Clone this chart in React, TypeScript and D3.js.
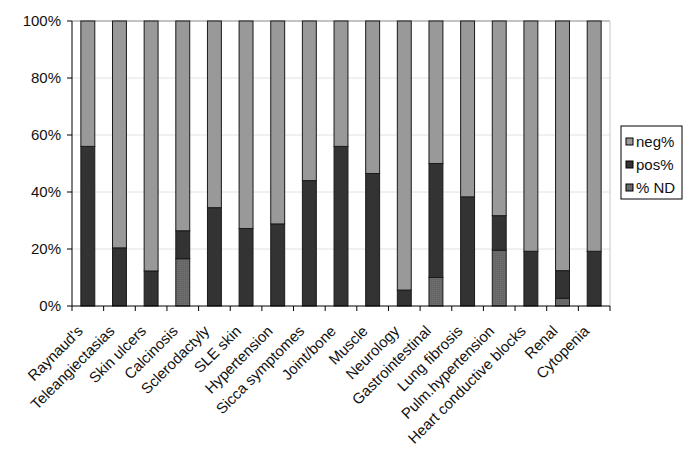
import React from "react";
import * as d3 from "d3";

const categories = [
  "Raynaud's", "Teleangiectasias", "Skin ulcers", "Calcinosis", "Sclerodactyly",
  "SLE skin", "Hypertension", "Sicca symptomes", "Joint/bone", "Muscle",
  "Neurology", "Gastrointestinal", "Lung fibrosis", "Pulm.hypertension",
  "Heart conductive blocks", "Renal", "Cytopenia",
];
const ndPct = [0, 0, 0, 16.6, 0, 0, 0, 0, 0, 0, 0, 10, 0, 19.6, 0, 2.7, 0];
const posPct = [56, 20.4, 12.3, 9.8, 34.5, 27.2, 28.8, 44, 56, 46.5, 5.6, 40, 38.3, 12.1, 19.2, 9.7, 19.2];
const negPct = categories.map((_, i) => 100 - ndPct[i] - posPct[i]);
const yTicks = [0, 20, 40, 60, 80, 100];
const legendItems = ["neg%", "pos%", "% ND"];

const width = 685;
const height = 455;
const margin = { left: 72, right: 75, top: 21, bottom: 149 };

const App = () => {
  const x = d3.scaleBand().domain(categories).range([margin.left, width - margin.right]).paddingInner(0.56).paddingOuter(0.28);
  const y = d3.scaleLinear().domain([0, 100]).range([height - margin.bottom, margin.top]);
  const step = x.step();
  const x0 = margin.left;
  const x1 = width - margin.right;
  const font = "Arial, 'Liberation Sans', sans-serif";

  const fills = { neg: "#999999", pos: "#333333", nd: "url(#ndPat)" };
  const legendFills = [fills.neg, fills.pos, fills.nd];

  return (
    <svg width={width} height={height} style={{ position: "absolute", left: 0, top: 0 }} fontFamily={font}>
      <defs>
        <pattern id="ndPat" width="2" height="2" patternUnits="userSpaceOnUse">
          <rect width="2" height="2" fill="#666" />
          <rect width="1" height="1" fill="#727272" />
        </pattern>
      </defs>
      <rect x={0} y={0} width={width} height={height} fill="#fff" />
      {yTicks.slice(1).map((t) => (
        <line key={t} x1={x0} x2={x1} y1={y(t)} y2={y(t)} stroke={t === 100 ? "#888" : "#e2e2e2"} />
      ))}
      <line x1={x1} x2={x1} y1={y(100)} y2={y(0)} stroke="#c8c8c8" />
      {categories.map((c, i) => {
        const bx = x(c)!;
        const bw = x.bandwidth();
        const segs = [
          { lo: 0, hi: ndPct[i], f: fills.nd },
          { lo: ndPct[i], hi: ndPct[i] + posPct[i], f: fills.pos },
          { lo: ndPct[i] + posPct[i], hi: 100, f: fills.neg },
        ];
        return (
          <g key={c}>
            {segs.filter((s) => s.hi - s.lo > 0).map((s, k) => (
              <rect key={k} x={bx} y={y(s.hi)} width={bw} height={y(s.lo) - y(s.hi)} fill={s.f} stroke="#1a1a1a" strokeWidth={1} />
            ))}
          </g>
        );
      })}
      {/* axes */}
      <line x1={x0} x2={x0} y1={y(0)} y2={y(100)} stroke="#000" />
      <line x1={x0} x2={x1} y1={y(0)} y2={y(0)} stroke="#000" />
      {yTicks.map((t) => (
        <g key={t}>
          <line x1={x0 - 5} x2={x0} y1={y(t)} y2={y(t)} stroke="#000" />
          <text x={x0 - 11} y={y(t)} dy="0.35em" textAnchor="end" fontSize={15} fill="#111">{t}%</text>
        </g>
      ))}
      {d3.range(categories.length + 1).map((k) => (
        <line key={k} x1={x0 + k * step} x2={x0 + k * step} y1={y(0)} y2={y(0) + 5} stroke="#000" />
      ))}
      {categories.map((c) => {
        const cx = x(c)! + x.bandwidth() / 2 - 4;
        const cy = y(0) + 26;
        return (
          <text key={c} x={cx} y={cy} textAnchor="end" fontSize={15} fill="#111" transform={`rotate(-45,${cx},${cy})`}>
            {c}
          </text>
        );
      })}
      {/* legend */}
      <g transform="translate(621,126)">
        <rect width={61} height={73} fill="#fff" stroke="#000" />
        {legendItems.map((l, i) => (
          <g key={l} transform={`translate(0,${16 + i * 23})`}>
            <rect x={5} y={-4} width={7} height={7} fill={legendFills[i]} stroke="#000" />
            <text x={15} y={0} dy="0.35em" fontSize={15} fill="#111">{l}</text>
          </g>
        ))}
      </g>
    </svg>
  );
};

export default App;
